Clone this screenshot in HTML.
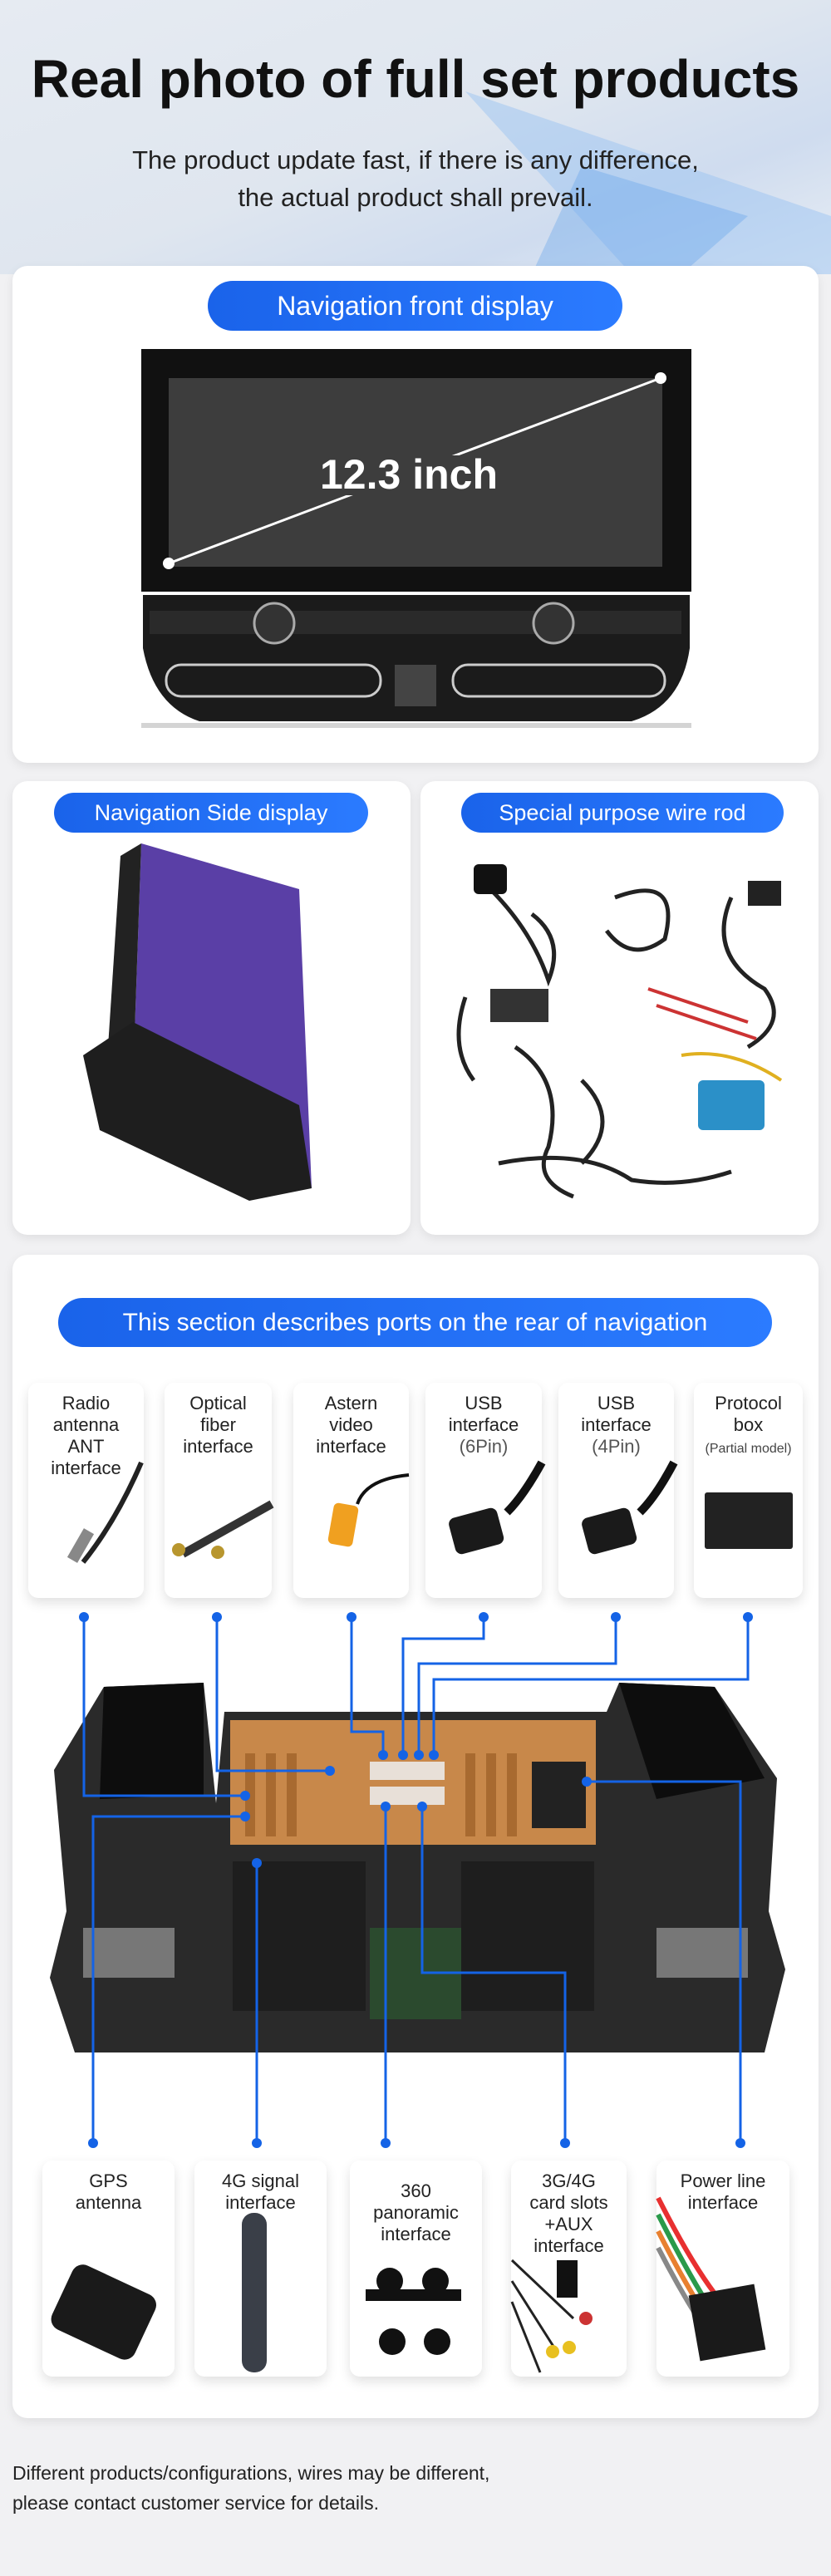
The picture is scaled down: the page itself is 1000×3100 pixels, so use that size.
<!DOCTYPE html>
<html><head><meta charset="utf-8"><style>
*{margin:0;padding:0;box-sizing:border-box}
body{width:1000px;height:3100px;background:#f1f1f3;position:relative;overflow:hidden;font-family:"Liberation Sans","DejaVu Sans",sans-serif}
.a{position:absolute}
.card{position:absolute;background:#fff;border-radius:18px;box-shadow:0 4px 12px rgba(0,0,0,.08)}
.pill{position:absolute;background:linear-gradient(90deg,#1a63ea,#2b7bff);color:#fff;border-radius:40px;text-align:center;font-size:32px}
.sc{position:absolute;background:#fff;border-radius:12px;box-shadow:0 6px 14px rgba(0,0,0,.12);text-align:center;color:#222;font-size:22px;line-height:26px;padding-top:12px}
</style></head><body>
<div class="a" style="left:0;top:0;width:1000px;height:330px;background:linear-gradient(160deg,#e6ebf2 0%,#dfe6ef 50%,#cfdcef 75%,#e9eef4 100%)"></div>
<svg class="a" style="left:0;top:0" width="1000" height="330"><polygon points="560,110 1000,260 1000,330 760,330" fill="#9cc3f2" opacity=".5"/><polygon points="700,200 900,260 820,330 640,330" fill="#5fa0ec" opacity=".35"/></svg>
<div class="a" style="left:0;top:58px;width:1000px;text-align:center;font-size:64px;font-weight:bold;color:#111">Real photo of full set products</div>
<div class="a" style="left:0;top:170px;width:1000px;text-align:center;font-size:31px;line-height:45px;color:#222">The product update fast, if there is any difference,<br>the actual product shall prevail.</div>

<div class="card" style="left:15px;top:320px;width:970px;height:598px"></div>
<div class="pill" style="left:250px;top:338px;width:499px;height:60px;line-height:60px">Navigation front display</div>
<svg class="a" style="left:0;top:0" width="1000" height="1000">
<rect x="170" y="420" width="662" height="292" fill="#111"/>
<rect x="203" y="455" width="594" height="227" fill="#3d3d3d"/>
<line x1="203" y1="678" x2="795" y2="455" stroke="#fff" stroke-width="3"/>
<rect x="380" y="548" width="230" height="48" fill="#3d3d3d"/>
<circle cx="203" cy="678" r="7" fill="#fff"/><circle cx="795" cy="455" r="7" fill="#fff"/>
<text x="492" y="588" text-anchor="middle" font-size="50" font-weight="bold" fill="#fff" font-family="Liberation Sans">12.3 inch</text>
<path d="M172 716 H830 V780 Q820 850 760 868 H240 Q185 850 172 780Z" fill="#1b1b1b"/>
<rect x="180" y="735" width="640" height="28" fill="#2a2a2a"/>
<circle cx="330" cy="750" r="24" fill="#333" stroke="#aaa" stroke-width="3"/>
<circle cx="666" cy="750" r="24" fill="#333" stroke="#aaa" stroke-width="3"/>
<rect x="200" y="800" width="258" height="38" rx="18" fill="none" stroke="#ccc" stroke-width="3"/>
<rect x="545" y="800" width="255" height="38" rx="18" fill="none" stroke="#ccc" stroke-width="3"/>
<rect x="475" y="800" width="50" height="50" fill="#444"/>
<rect x="170" y="870" width="662" height="6" fill="#aaa" opacity=".5"/>
</svg>

<div class="card" style="left:15px;top:940px;width:479px;height:546px"></div>
<div class="card" style="left:506px;top:940px;width:479px;height:546px"></div>
<div class="pill" style="left:65px;top:954px;width:378px;height:48px;line-height:48px;font-size:27px">Navigation Side display</div>
<div class="pill" style="left:555px;top:954px;width:388px;height:48px;line-height:48px;font-size:27px">Special purpose wire rod</div>
<svg class="a" style="left:0;top:0" width="1000" height="1500">
<polygon points="170,1015 360,1070 375,1430 160,1300" fill="#5a3fa6"/>
<polygon points="170,1015 160,1300 130,1260 145,1030" fill="#222"/>
<path d="M100 1270 L160 1230 L360 1330 L375 1430 L300 1445 L120 1360Z" fill="#1e1e1e"/>
<g fill="none" stroke="#222" stroke-width="5">
<path d="M590 1070 Q640 1120 660 1180 Q680 1130 640 1100"/>
<path d="M740 1080 Q820 1050 800 1130 Q760 1160 730 1120"/>
<path d="M560 1200 Q540 1260 570 1300 M620 1260 Q680 1300 660 1380 Q640 1420 690 1440"/>
<path d="M880 1080 Q850 1150 920 1190 Q950 1230 900 1260"/>
<path d="M600 1400 Q700 1380 760 1420 Q820 1430 880 1410"/>
<path d="M700 1300 Q750 1350 700 1400"/>
</g>
<rect x="570" y="1040" width="40" height="36" rx="6" fill="#111"/>
<rect x="590" y="1190" width="70" height="40" fill="#333"/>
<rect x="840" y="1300" width="80" height="60" rx="6" fill="#2b90c8"/>
<rect x="900" y="1060" width="40" height="30" fill="#222"/>
<path d="M780 1190 L900 1230 M790 1210 L910 1250" stroke="#c33" stroke-width="4"/>
<path d="M820 1270 Q880 1260 940 1300" stroke="#e0b020" stroke-width="4" fill="none"/>
</svg>

<div class="card" style="left:15px;top:1510px;width:970px;height:1400px"></div>
<div class="pill" style="left:70px;top:1562px;width:859px;height:59px;line-height:59px;font-size:30px">This section describes ports on the rear of navigation</div>
<div class="sc" style="left:34px;top:1664px;width:139px;height:259px">Radio<br>antenna<br>ANT<br>interface</div>
<div class="sc" style="left:198px;top:1664px;width:129px;height:259px">Optical<br>fiber<br>interface</div>
<div class="sc" style="left:353px;top:1664px;width:139px;height:259px">Astern<br>video<br>interface</div>
<div class="sc" style="left:512px;top:1664px;width:140px;height:259px">USB<br>interface<br><span style="color:#555">(6Pin)</span></div>
<div class="sc" style="left:672px;top:1664px;width:139px;height:259px">USB<br>interface<br><span style="color:#555">(4Pin)</span></div>
<div class="sc" style="left:835px;top:1664px;width:131px;height:259px">Protocol<br>box<br><span style="font-size:16px;color:#444">(Partial model)</span></div>

<div class="a" style="left:30px;top:1994px;width:940px;height:551px;background:#fff"></div>

<div class="sc" style="left:51px;top:2600px;width:159px;height:260px">GPS<br>antenna</div>
<div class="sc" style="left:234px;top:2600px;width:159px;height:260px">4G signal<br>interface</div>
<div class="sc" style="left:421px;top:2600px;width:159px;height:260px;padding-top:24px">360<br>panoramic<br>interface</div>
<div class="sc" style="left:615px;top:2600px;width:139px;height:260px">3G/4G<br>card slots<br>+AUX<br>interface</div>
<div class="sc" style="left:790px;top:2600px;width:160px;height:260px">Power line<br>interface</div>

<svg class="a" style="left:0;top:0" width="1000" height="3100">
<!-- small card products -->
<path d="M170 1760 Q140 1830 100 1880" stroke="#222" stroke-width="6" fill="none"/><rect x="90" y="1840" width="14" height="40" fill="#888" transform="rotate(30 97 1860)"/>
<path d="M327 1810 L220 1870" stroke="#333" stroke-width="10"/><circle cx="215" cy="1865" r="8" fill="#b8962e"/><circle cx="262" cy="1868" r="8" fill="#b8962e"/>
<path d="M492 1775 Q440 1780 430 1810" stroke="#111" stroke-width="4" fill="none"/><rect x="398" y="1810" width="30" height="50" rx="6" fill="#f0a020" transform="rotate(10 413 1835)"/>
<path d="M652 1760 Q630 1800 610 1820" stroke="#111" stroke-width="10" fill="none"/><rect x="543" y="1820" width="60" height="45" rx="8" fill="#1a1a1a" transform="rotate(-15 573 1842)"/>
<path d="M811 1760 Q790 1800 770 1820" stroke="#111" stroke-width="10" fill="none"/><rect x="703" y="1820" width="60" height="45" rx="8" fill="#1a1a1a" transform="rotate(-15 733 1842)"/>
<rect x="848" y="1796" width="106" height="68" rx="3" fill="#222"/>
<!-- rear photo -->
<path d="M65 2130 L125 2030 L245 2025 L260 2170 L270 2060 L730 2060 L745 2025 L860 2030 L935 2140 L925 2300 L945 2370 L920 2470 L90 2470 L60 2380 L80 2300Z" fill="#2a2a2a"/>
<path d="M125 2030 L245 2025 L245 2160 L120 2165Z" fill="#0d0d0d"/>
<path d="M745 2025 L860 2030 L920 2140 L790 2165Z" fill="#0d0d0d"/>
<rect x="277" y="2070" width="440" height="150" fill="#c8884a"/>
<g fill="#a86a30"><rect x="295" y="2110" width="12" height="100"/><rect x="320" y="2110" width="12" height="100"/><rect x="345" y="2110" width="12" height="100"/><rect x="560" y="2110" width="12" height="100"/><rect x="585" y="2110" width="12" height="100"/><rect x="610" y="2110" width="12" height="100"/></g>
<rect x="445" y="2120" width="90" height="22" fill="#e8e0d8"/><rect x="445" y="2150" width="90" height="22" fill="#e8e0d8"/>
<rect x="640" y="2120" width="65" height="80" fill="#222"/>
<rect x="100" y="2320" width="110" height="60" fill="#777"/><rect x="790" y="2320" width="110" height="60" fill="#777"/>
<rect x="280" y="2240" width="160" height="180" fill="#1e1e1e"/><rect x="555" y="2240" width="160" height="180" fill="#1e1e1e"/>
<rect x="445" y="2320" width="110" height="110" fill="#2b4a2e"/>
<!-- bottom card products -->
<rect x="70" y="2740" width="110" height="85" rx="14" fill="#1a1a1a" transform="rotate(25 125 2782)"/>
<rect x="291" y="2663" width="30" height="192" rx="14" fill="#3a3f48"/>
<g fill="#111"><circle cx="469" cy="2745" r="16"/><circle cx="524" cy="2745" r="16"/><circle cx="472" cy="2818" r="16"/><circle cx="526" cy="2818" r="16"/><rect x="440" y="2755" width="60" height="14"/><rect x="500" y="2755" width="55" height="14"/></g>
<g stroke="#222" stroke-width="3" fill="none"><path d="M616 2720 L690 2790 M616 2745 L670 2830 M616 2770 L650 2855"/></g>
<rect x="670" y="2720" width="25" height="45" fill="#111"/><circle cx="705" cy="2790" r="8" fill="#c33"/><circle cx="685" cy="2825" r="8" fill="#e8c020"/><circle cx="665" cy="2830" r="8" fill="#e8c020"/>
<g stroke-width="6" fill="none"><path d="M792 2645 Q830 2720 860 2760" stroke="#e83030"/><path d="M792 2665 Q825 2730 850 2770" stroke="#2a9a4a"/><path d="M792 2685 Q820 2740 845 2780" stroke="#e88030"/><path d="M792 2705 Q815 2750 840 2790" stroke="#888"/></g>
<rect x="835" y="2755" width="80" height="80" fill="#1a1a1a" transform="rotate(-10 875 2795)"/>
<!-- connectors -->
<g stroke="#1463e6" stroke-width="3" fill="none">
<path d="M101 1946 V2161 H295"/><path d="M261 1946 V2131 H397"/><path d="M423 1946 V2084 H461 V2112"/>
<path d="M582 1946 V1972 H485 V2112"/><path d="M741 1946 V2002 H504 V2112"/><path d="M900 1946 V2021 H522 V2112"/>
<path d="M295 2186 H112 V2579"/><path d="M309 2242 V2579"/><path d="M464 2174 V2579"/>
<path d="M508 2174 V2374 H680 V2579"/><path d="M706 2144 H891 V2579"/>
</g>
<g fill="#1463e6">
<circle cx="101" cy="1946" r="6"/><circle cx="261" cy="1946" r="6"/><circle cx="423" cy="1946" r="6"/><circle cx="582" cy="1946" r="6"/><circle cx="741" cy="1946" r="6"/><circle cx="900" cy="1946" r="6"/>
<circle cx="295" cy="2161" r="6"/><circle cx="397" cy="2131" r="6"/><circle cx="461" cy="2112" r="6"/><circle cx="485" cy="2112" r="6"/><circle cx="504" cy="2112" r="6"/><circle cx="522" cy="2112" r="6"/>
<circle cx="295" cy="2186" r="6"/><circle cx="309" cy="2242" r="6"/><circle cx="464" cy="2174" r="6"/><circle cx="508" cy="2174" r="6"/><circle cx="706" cy="2144" r="6"/>
<circle cx="112" cy="2579" r="6"/><circle cx="309" cy="2579" r="6"/><circle cx="464" cy="2579" r="6"/><circle cx="680" cy="2579" r="6"/><circle cx="891" cy="2579" r="6"/>
</g>
</svg>

<div class="a" style="left:15px;top:2958px;font-size:23px;line-height:36px;color:#222">Different products/configurations, wires may be different,<br>please contact customer service for details.</div>
</body></html>
